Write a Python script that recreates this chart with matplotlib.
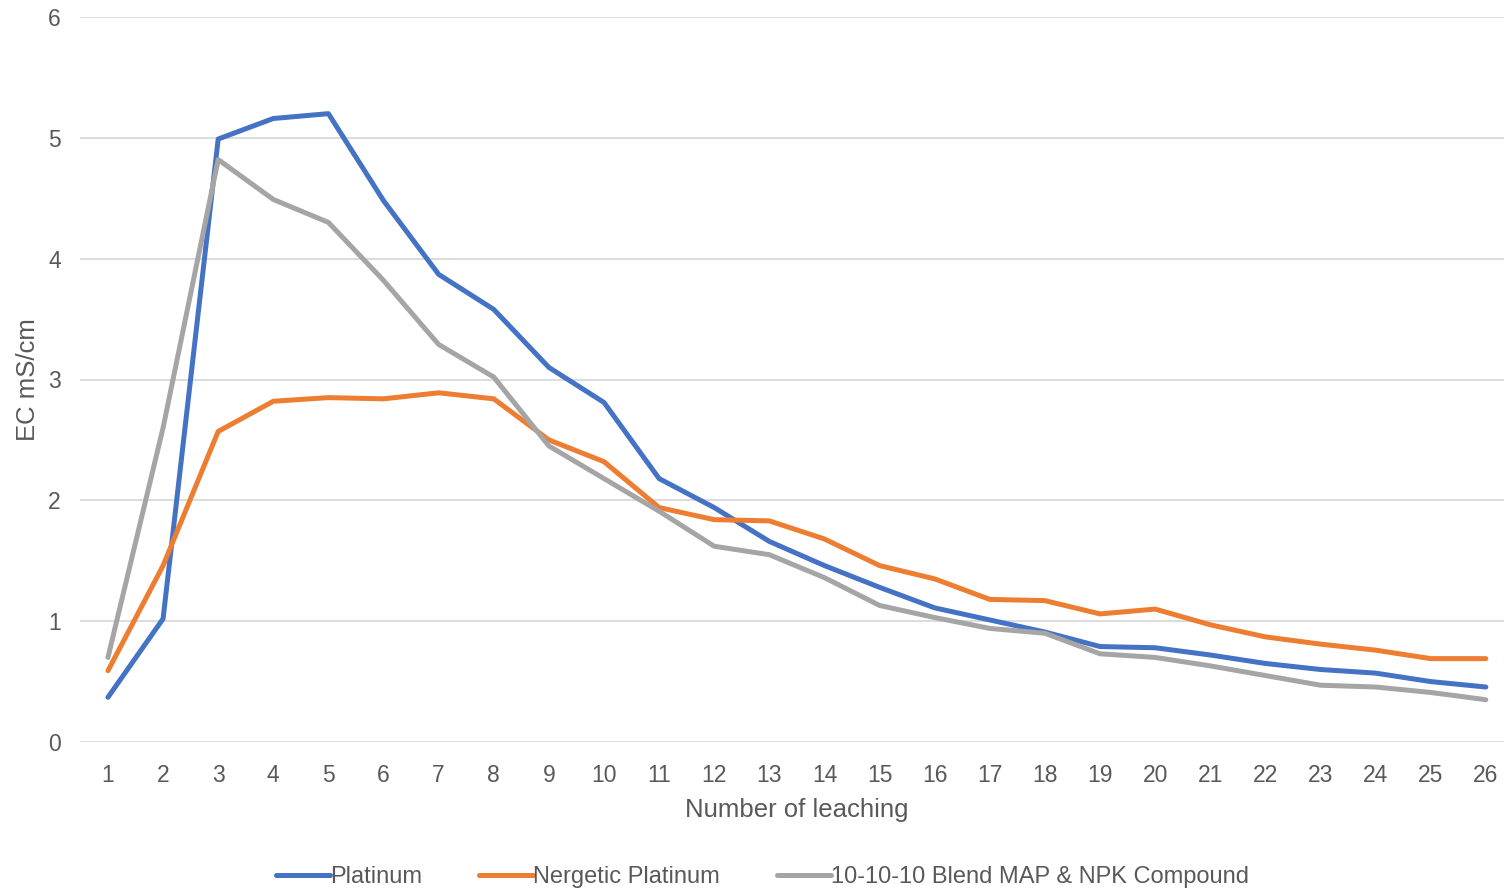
import matplotlib
matplotlib.use("Agg")
import matplotlib.pyplot as plt

leaching = list(range(1, 27))
platinum = [0.37, 1.02, 4.99, 5.16, 5.20, 4.48, 3.87, 3.58, 3.10, 2.81, 2.18, 1.94, 1.66,
            1.46, 1.28, 1.11, 1.01, 0.91, 0.79, 0.78, 0.72, 0.65, 0.60, 0.57, 0.50, 0.455]
nergetic = [0.59, 1.46, 2.57, 2.82, 2.85, 2.84, 2.89, 2.84, 2.50, 2.32, 1.94, 1.84, 1.83,
            1.68, 1.46, 1.35, 1.18, 1.17, 1.06, 1.10, 0.97, 0.87, 0.81, 0.76, 0.69, 0.69]
blend = [0.70, 2.60, 4.82, 4.49, 4.30, 3.82, 3.29, 3.02, 2.45, 2.18, 1.91, 1.62, 1.55,
         1.36, 1.13, 1.03, 0.94, 0.90, 0.73, 0.70, 0.63, 0.55, 0.47, 0.455, 0.41, 0.35]
series_names = ["Platinum", "Nergetic Platinum", "10-10-10 Blend MAP & NPK Compound"]
colors = ["#4472C4", "#ED7D31", "#A5A5A5"]

plt.rcParams['font.family'] = ['Liberation Sans', 'DejaVu Sans']

fig = plt.figure(figsize=(15.04, 8.91), dpi=100)
ax = fig.add_axes([80.4/1504, 1 - 742/891, 1433/1504, (742-17)/891])

for vals, name, c in zip([platinum, nergetic, blend], series_names, colors):
    ax.plot(leaching, vals, color=c, lw=3.6, label=name, solid_joinstyle='round',
            solid_capstyle='round')

ax.set_xlim(0.5, 26.5)
ax.set_ylim(0, 6)
ax.set_yticks(range(0, 7))
ax.set_xticks(leaching)
ax.set_xticklabels([str(i) for i in leaching])
ax.grid(axis='y', color='#d9d9d9', lw=1.3)
ax.set_axisbelow(True)
for s in ax.spines.values():
    s.set_visible(False)
ax.tick_params(axis='both', length=0, labelsize=16.5, colors='#595959')
ax.tick_params(axis='x', pad=16)
ax.tick_params(axis='y', pad=14)
ax.set_xlabel("Number of leaching", fontsize=18.5, color='#595959', labelpad=8)
ax.set_ylabel("EC mS/cm", fontsize=18.5, color='#595959', labelpad=6)

leg = fig.legend(loc='center', bbox_to_anchor=(0.507, 1 - 877/891), ncol=3, frameon=False,
                 fontsize=17, handlelength=2.3, handletextpad=0.0, columnspacing=2.4)
for t in leg.get_texts():
    t.set_color('#595959')

fig.savefig("out.png", dpi=100)
